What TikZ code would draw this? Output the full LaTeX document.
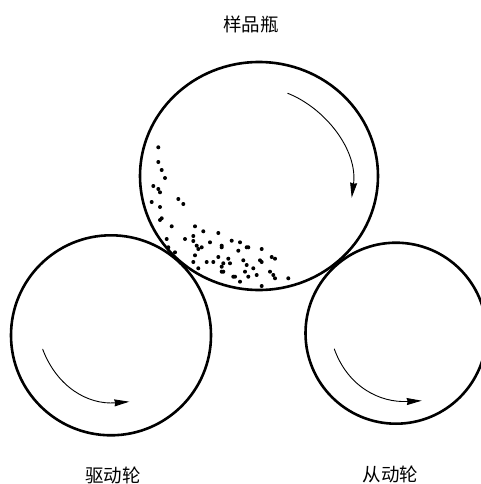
\documentclass[tikz,border=0pt]{standalone}
\usepackage{fontspec}
\usepackage{tikz}
\usetikzlibrary{arrows.meta}
\newfontfamily\cjk{Noto Sans CJK SC}

\begin{document}
\begin{tikzpicture}[x=1pt, y=-1pt, line cap=round, line join=round,
    wheel/.style={line width=2.6pt},
    spin/.style={line width=0.9pt, -{Stealth[length=15pt,width=7pt,inset=1pt]}},
    tag/.style={font=\cjk\fontsize{18.5}{20}\selectfont, inner sep=0pt}]
\useasboundingbox (0,0) rectangle (481,484);
\draw[wheel] (259,176) ellipse (119pt and 114pt);
\draw[wheel] (111,335.3) circle (100pt);
\draw[wheel] (396,333.2) circle (90.5pt);
\foreach \px/\py in {158.3/147.3, 158.3/162, 161.7/170, 165/178, 153.3/186, 158.3/189, 160/192.3,
    151.7/202, 178.3/199, 183.3/204, 160/207, 161.7/218.3, 160/220, 171.7/226.3, 166.7/239,
    168.3/247.3, 175/252.3, 185/239, 195/226.3, 203.3/231.3, 193.3/236, 193.3/241, 196.7/245.7,
    198.3/249, 201.7/247.3, 218.3/233, 210/242.3, 221.7/245.7, 221.7/247.3, 231.7/240.7,
    240/242.3, 246.7/247.3, 248.3/247.3, 238.3/250.7, 261.7/249, 195/255.3, 193.3/262,
    198.3/268.3, 206.7/262, 213.3/262, 218.3/257, 223.3/263.3, 221.7/266.7, 228.3/258.7,
    230/263.3, 221.7/271.7, 223.3/271.7, 243.3/260.3, 246.7/265, 253.3/268.3, 260/260.3,
    261.7/262, 271.7/257, 275/258.7, 245/271.7, 248.3/276.7, 256.7/275, 270/271.7, 273.3/275,
    275/278.3, 288.3/278.3, 233.3/276.7, 235/276.7, 240/281.7, 261.7/286}
  \fill (\px,\py) circle (2pt);
\draw[spin] (287.7,93.3) .. controls (325,108) and (358,150) .. (351.7,197.7);
\draw[spin] (42.7,349.3) .. controls (57,387) and (88,405) .. (129.3,401.7);
\draw[spin] (334.3,349) .. controls (348,387) and (380,403) .. (421.7,400.7);
\node[tag] (bottlelabel) at (251,24) {样品瓶};
\node[tag] (drivelabel) at (113,475) {驱动轮};
\node[tag] (followlabel) at (390.5,474) {从动轮};
\end{tikzpicture}
\end{document}
